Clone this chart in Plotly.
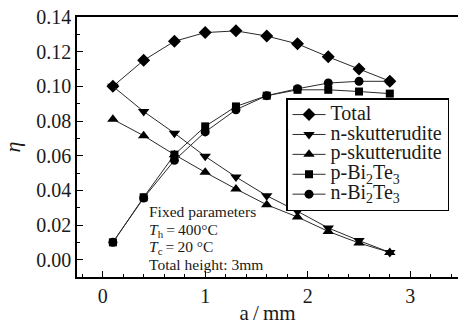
import plotly.graph_objects as go

# ---- data ----
a_mm = [0.1, 0.4, 0.7, 1.0, 1.3, 1.6, 1.9, 2.2, 2.5, 2.8]
total = [0.100, 0.115, 0.126, 0.131, 0.132, 0.129, 0.1245, 0.117, 0.110, 0.103]
n_skutt = [0.100, 0.0855, 0.073, 0.0596, 0.0477, 0.0369, 0.0279, 0.0183, 0.011, 0.0042]
p_skutt = [0.081, 0.0715, 0.0606, 0.0504, 0.0408, 0.0317, 0.0246, 0.0163, 0.0096, 0.0042]
p_bi2te3 = [0.010, 0.036, 0.0606, 0.0769, 0.0884, 0.0946, 0.098, 0.098, 0.097, 0.0958]
n_bi2te3 = [0.010, 0.0356, 0.0573, 0.0737, 0.0865, 0.0946, 0.0986, 0.1019, 0.1029, 0.1029]

series_names = ["Total", "n-skutterudite", "p-skutterudite",
                "p-Bi<sub>2</sub>Te<sub>3</sub>", "n-Bi<sub>2</sub>Te<sub>3</sub>"]
series_vals = [total, n_skutt, p_skutt, p_bi2te3, n_bi2te3]
symbols = ["diamond", "triangle-down", "triangle-up", "square", "circle"]
sizes = [10, 10, 10, 8, 9]

ann_lines = ["Fixed parameters",
             "<i>T</i><sub>h</sub>\u2009=\u2009400°C",
             "<i>T</i><sub>c</sub>\u2009=\u200920 °C",
             "Total height: 3mm"]

FONT = "Liberation Serif, Times New Roman, serif"
INK = "#1a1a1a"

fig = go.Figure()
for name, vals, sym, sz in zip(series_names, series_vals, symbols, sizes):
    fig.add_trace(go.Scatter(
        x=a_mm, y=vals, mode="lines+markers",
        name='<span style="font-size:20px">' + name + '</span>',
        line=dict(color="#2a2a2a", width=1),
        marker=dict(symbol=sym, size=sz, color="black", line=dict(width=0)),
    ))

ann_y = [0.252, 0.180, 0.114, 0.048]
for txt, yy in zip(ann_lines, ann_y):
    fig.add_annotation(text=txt, xref="paper", yref="paper", x=0.184, y=yy,
                       xanchor="left", yanchor="middle", showarrow=False,
                       font=dict(family=FONT, size=15.5, color=INK))

fig.update_layout(
    width=458, height=325,
    margin=dict(l=77, r=0, t=17, b=48),
    paper_bgcolor="white", plot_bgcolor="white",
    font=dict(family=FONT, color=INK, size=20),
    showlegend=True,
    legend=dict(x=0.5486, y=0.688, xanchor="left", yanchor="top",
                bgcolor="white", bordercolor="black", borderwidth=1.5,
                font=dict(family=FONT, size=13, color=INK),
                itemwidth=33, tracegroupgap=0),
    xaxis=dict(range=[-0.25, 3.465], showgrid=False, zeroline=False,
               showline=True, linecolor="black", linewidth=1.5, mirror=True,
               ticks="inside", ticklen=6, tickwidth=1.2, tickcolor="black",
               tickvals=[0, 1, 2, 3], ticktext=["0", "1", "2", "3"],
               minor=dict(ticks="inside", ticklen=3, tickwidth=1.2,
                          tickcolor="black", dtick=0.2, tick0=0, showgrid=False),
               tickfont=dict(family=FONT, size=20, color=INK),
               title=dict(text="a\u2009/\u2009mm", font=dict(family=FONT, size=21, color=INK),
                          standoff=3)),
    yaxis=dict(range=[-0.01, 0.14], showgrid=False, zeroline=False,
               showline=True, linecolor="black", linewidth=1.5,
               ticks="inside", ticklen=6, tickwidth=1.2, tickcolor="black",
               dtick=0.02, tick0=0, tickformat=".2f",
               minor=dict(ticks="inside", ticklen=3, tickwidth=1.2,
                          tickcolor="black", dtick=0.01, showgrid=False),
               tickfont=dict(family=FONT, size=20, color=INK),
               title=dict(text="<i>η</i>", font=dict(family=FONT, size=22, color=INK),
                          standoff=11)),
)

fig.write_html("out.html")
